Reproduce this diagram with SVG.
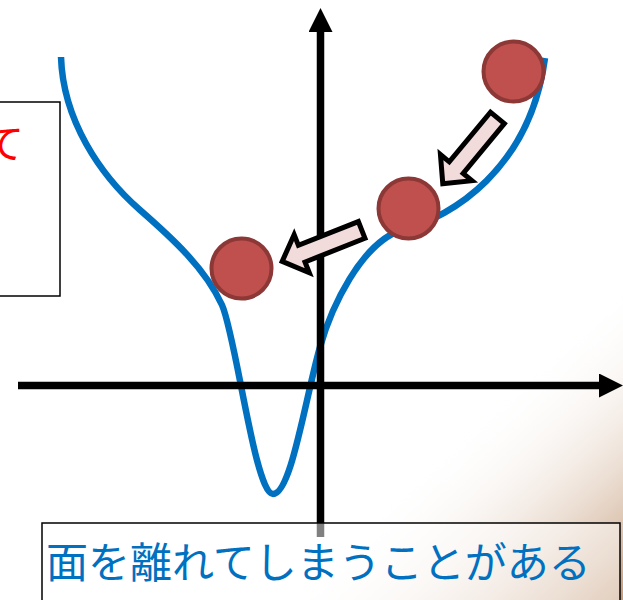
<svg xmlns="http://www.w3.org/2000/svg" width="623" height="600" viewBox="0 0 623 600">
  <defs>
    <linearGradient id="bg" gradientUnits="userSpaceOnUse" x1="464" y1="424" x2="623" y2="600">
      <stop offset="0" stop-color="#ffffff" stop-opacity="0"/>
      <stop offset="1" stop-color="#c49b79" stop-opacity="1"/>
    </linearGradient>
    <marker id="ah" viewBox="0 0 24 24" refX="0" refY="12" markerWidth="24" markerHeight="24" markerUnits="userSpaceOnUse" orient="auto">
      <path d="M0,0 L24,12 L0,24 Z" fill="#000"/>
    </marker>
  </defs>
  <style>
    .axis { stroke: #000; stroke-width: 7.5; fill: none; }
    .curve { stroke: #0070c0; stroke-width: 6.5; fill: none; }
    .ball { fill: #c0504d; stroke: #8c3836; stroke-width: 4; }
    .barrow { fill: #f2dcdb; stroke: #000; stroke-width: 5; stroke-linejoin: miter; }
    .box { stroke: #000; stroke-width: 1.5; }
    .jp { font-family: "Noto Sans CJK JP", "Noto Sans", sans-serif; }
  </style>
  <rect x="0" y="0" width="623" height="600" fill="#ffffff"/>
  <rect x="0" y="0" width="623" height="600" fill="url(#bg)"/>

  <g id="left-box">
    <rect class="box" x="-10" y="102" width="70" height="194" fill="#ffffff"/>
    <text class="jp" x="-16" y="158" font-size="40" fill="#ff0000">て</text>
  </g>

  <g id="curve">
    <path class="curve" d="M61,57 C63,120 100,175 140,210 C172,238 205,268 222,305 C236,336 255,494 273,494 C291,494 305,400 320,347 C330,312 360,240 407,228 C450,217 530,170 545,58"/>
  </g>

  <g id="connectors">
    <line class="axis" x1="18" y1="385.5" x2="599" y2="385.5" marker-end="url(#ah)"/>
    <line class="axis" x1="320.5" y1="537" x2="320.5" y2="32" marker-end="url(#ah)"/>
    <path class="barrow" transform="translate(499,116) rotate(129.7)" d="M2.5,-9 L67,-9 L67,-20.5 L88,0 L67,20.5 L67,9 L2.5,9 Z"/>
    <path class="barrow" transform="translate(364,229) rotate(158.4)" d="M2.5,-9 L67,-9 L67,-20.5 L88,0 L67,20.5 L67,9 L2.5,9 Z"/>
  </g>

  <g id="ball1"><circle class="ball" cx="513.5" cy="71.5" r="30"/></g>
  <g id="ball2"><circle class="ball" cx="408.5" cy="208.5" r="30"/></g>
  <g id="ball3"><circle class="ball" cx="241.5" cy="268.5" r="30"/></g>

  <g id="bottom-box">
    <rect class="box" x="42" y="523" width="578" height="90" fill="#ffffff" fill-opacity="0.5"/>
    <text class="jp" x="46" y="578" font-size="42" fill="#0070c0">面を離れてしまうことがある</text>
  </g>
</svg>
